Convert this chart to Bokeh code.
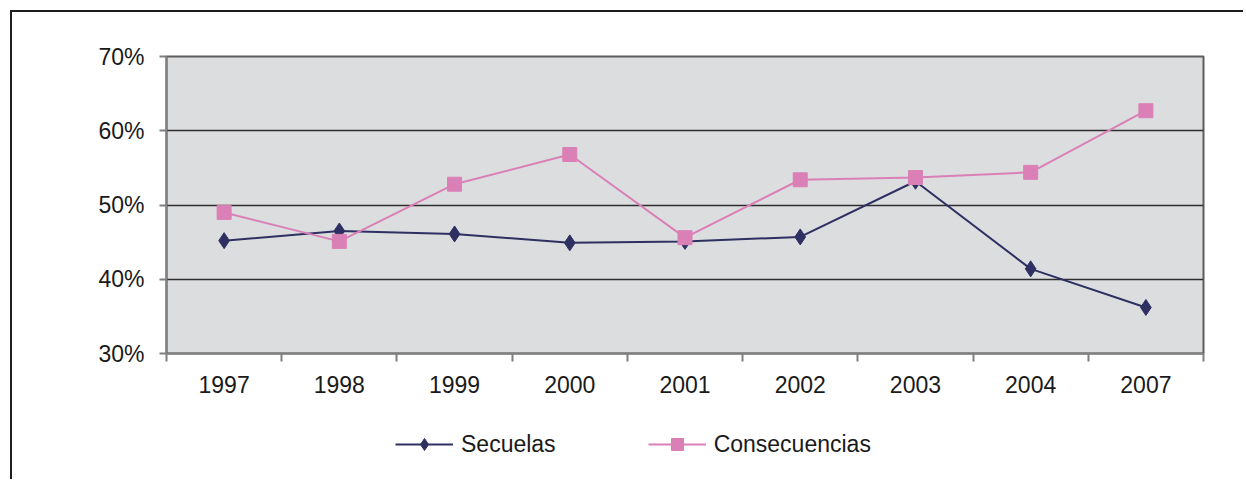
from bokeh.plotting import figure
from bokeh.layouts import column
from bokeh.models import Range1d, FixedTicker, PrintfTickFormatter, Legend, LegendItem
from bokeh.embed import file_html
from bokeh.resources import INLINE

years = ["1997", "1998", "1999", "2000", "2001", "2002", "2003", "2004", "2007"]
secuelas = [45.2, 46.5, 46.1, 44.9, 45.1, 45.7, 53.2, 41.4, 36.2]
consecuencias = [49.0, 45.1, 52.8, 56.8, 45.6, 53.4, 53.7, 54.4, 62.7]
y_ticks = [30, 40, 50, 60, 70]
series_names = ["Secuelas", "Consecuencias"]

NAVY = "#2E3062"
PINK = "#DA80B6"
FONT = "Liberation Sans"
FS = "23px"

xs = [i + 0.5 for i in range(len(years))]

p = figure(frame_width=1037, frame_height=297, output_backend="svg", toolbar_location=None,
           x_range=Range1d(0, len(years)), y_range=Range1d(30, 70),
           min_border_left=154, min_border_right=30, min_border_top=44,
           min_border_bottom=50)

p.background_fill_color = "#DCDDDF"
p.border_fill_color = "white"
p.outline_line_color = "#5c5c5c"
p.outline_line_width = 2

# y axis
p.yaxis.ticker = FixedTicker(ticks=y_ticks)
p.yaxis.formatter = PrintfTickFormatter(format="%d%%")
p.yaxis.axis_line_color = "#7f7f7f"
p.yaxis.axis_line_width = 2
p.yaxis.major_tick_line_color = "#7f7f7f"
p.yaxis.major_tick_line_width = 2
p.yaxis.major_tick_out = 7
p.yaxis.major_tick_in = 0
p.yaxis.minor_tick_line_color = None
p.yaxis.major_label_text_font = FONT
p.yaxis.major_label_text_font_size = FS
p.yaxis.major_label_text_color = "#1a1a1a"
p.yaxis.major_label_standoff = 15

# x axis
p.xaxis.ticker = FixedTicker(ticks=xs, minor_ticks=list(range(len(years) + 1)))
p.xaxis.major_label_overrides = {x: y for x, y in zip(xs, years)}
p.xaxis.axis_line_color = "#7f7f7f"
p.xaxis.axis_line_width = 2
p.xaxis.major_tick_line_color = None
p.xaxis.minor_tick_line_color = "#7f7f7f"
p.xaxis.minor_tick_line_width = 2
p.xaxis.minor_tick_out = 8
p.xaxis.minor_tick_in = 0
p.xaxis.major_label_text_font = FONT
p.xaxis.major_label_text_font_size = FS
p.xaxis.major_label_text_color = "#1a1a1a"
p.xaxis.major_label_standoff = 14

p.xgrid.grid_line_color = None
p.ygrid.ticker = FixedTicker(ticks=y_ticks)
p.ygrid.grid_line_color = "#2e2e2e"
p.ygrid.grid_line_width = 1.5

p.line(xs, secuelas, line_color=NAVY, line_width=2)
p.scatter(xs, secuelas, marker="diamond", size=16, fill_color=NAVY, line_color=NAVY)
p.line(xs, consecuencias, line_color=PINK, line_width=2)
p.scatter(xs, consecuencias, marker="square", size=14, fill_color=PINK, line_color=PINK)

# legend strip (separate figure so the legend is not clipped by the main frame);
# its glyphs use the same series but fall outside this strip's ranges, so only
# the legend swatches are visible.
pl = figure(frame_width=1231, frame_height=76, output_backend="svg", toolbar_location=None,
            x_range=Range1d(0, 1), y_range=Range1d(0, 1),
            min_border=0)
pl.axis.visible = False
pl.grid.visible = False
pl.outline_line_color = None
pl.background_fill_color = "white"
pl.border_fill_color = "white"
k1 = pl.line(xs, secuelas, line_color=NAVY, line_width=2)
s1 = pl.scatter(xs, secuelas, marker="diamond", fill_color=NAVY, line_color=NAVY)
k2 = pl.line(xs, consecuencias, line_color=PINK, line_width=2)
s2 = pl.scatter(xs, consecuencias, marker="square", fill_color=PINK, line_color=PINK)

legend = Legend(items=[LegendItem(label=series_names[0], renderers=[k1, s1]),
                       LegendItem(label=series_names[1], renderers=[k2, s2])],
                orientation="horizontal", location=(383, 20))
legend.label_text_font = FONT
legend.label_text_font_size = FS
legend.label_text_color = "#1a1a1a"
legend.glyph_width = 58
legend.glyph_height = 30
legend.label_standoff = 8
legend.spacing = 92
legend.padding = 0
legend.margin = 0
legend.border_line_color = None
legend.background_fill_alpha = 0
pl.add_layout(legend, "center")

layout = column(p, pl, spacing=0)
layout.margin = (10, 0, 0, 10)
layout.styles = {"border-left": "2px solid #1e1e1e", "border-top": "2px solid #1e1e1e"}

open("out.html", "w").write(file_html(layout, INLINE))
